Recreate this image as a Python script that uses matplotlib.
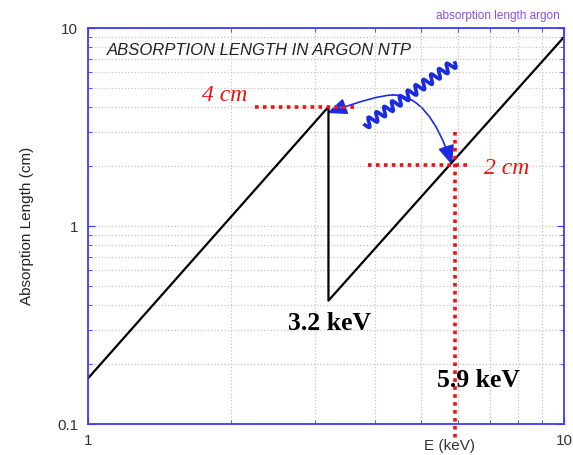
import numpy as np
import matplotlib.pyplot as plt
from matplotlib.patches import FancyArrowPatch
from matplotlib.ticker import FuncFormatter, NullFormatter, LogLocator

plt.rcParams['font.family'] = ['Liberation Sans', 'DejaVu Sans']

# absorption length curve (K edge at 3.2 keV)
energy = [1.0, 3.2, 3.2, 10.0]
abs_length = [0.17, 4.0, 0.42, 9.0]

# red dotted guide lines
guide_4cm_x = [2.24, 3.64]
guide_4cm_y = [4.0, 4.0]
guide_2cm_x = [3.87, 6.29]
guide_2cm_y = [2.03, 2.03]
guide_59_x = [5.9, 5.9]
guide_59_y = [3.0, 0.085]

W, H = 573, 455
blue = '#3b3bff'
fig = plt.figure(figsize=(W / 100, H / 100), dpi=100)
ax = fig.add_axes([88 / W, 1 - 424 / H, 476 / W, 396 / H])
ax.set_xscale('log')
ax.set_yscale('log')
ax.set_xlim(1, 10)
ax.set_ylim(0.1, 10)

ax.grid(True, which='both', color='#c4c4c4', linestyle=':', linewidth=0.9)
for s in ax.spines.values():
    s.set_color(blue)
    s.set_linewidth(1.3)
ax.tick_params(which='both', direction='in', color=blue, top=True, right=True,
               labelsize=11, labelcolor='#333333', pad=7)
ax.tick_params(which='major', length=5)
ax.tick_params(which='minor', length=3)
ax.xaxis.set_minor_locator(LogLocator(subs=np.arange(2, 10)))
ax.yaxis.set_minor_locator(LogLocator(subs=np.arange(2, 10)))
fmt = FuncFormatter(lambda v, p: f'{v:g}')
ax.xaxis.set_major_formatter(fmt)
ax.yaxis.set_major_formatter(fmt)
ax.xaxis.set_minor_formatter(NullFormatter())
ax.yaxis.set_minor_formatter(NullFormatter())

ax.plot(energy, abs_length, color='black', linewidth=1.6)

dots = dict(color='#ee1111', linewidth=2.6, linestyle=(0, (1, 1.2)), clip_on=False)
ax.plot(guide_4cm_x, guide_4cm_y, **dots)
ax.plot(guide_2cm_x, guide_2cm_y, **dots)
ax.plot(guide_59_x, guide_59_y, **dots)

ax.set_ylabel('Absorption Length (cm)', fontsize=11, color='#222222', labelpad=17)
ax.text(0.76, -0.055, 'E (keV)', transform=ax.transAxes, ha='center', va='center',
        fontsize=11, color='#333333')

ax.text(0.04, 0.944, 'ABSORPTION LENGTH IN ARGON NTP', transform=ax.transAxes,
        fontsize=12, style='italic', color='#222222', va='center')
fig.text(560 / W, 1 - 16 / H, 'absorption length argon', ha='right', va='center',
         fontsize=8.5, color='#8a50d8')

serif = ['Liberation Serif', 'DejaVu Serif']
ax.text(2.16, 4.55, '4 cm', color='#ee1111', fontsize=17, style='italic',
        family=serif, ha='right', va='center')
ax.text(6.8, 1.96, '2 cm', color='#ee1111', fontsize=17, style='italic',
        family=serif, ha='left', va='center')
ax.text(3.21, 0.32, '3.2 keV', color='black', fontsize=18.5, fontweight='bold',
        family=serif, ha='center', va='center')
ax.text(6.6, 0.165, '5.9 keV', color='black', fontsize=18.5, fontweight='bold',
        family=serif, ha='center', va='center')

# curved arrows from the photon
start = (4.37, 4.59)
head = dict(arrowstyle='-|>,head_length=1.0,head_width=0.42', mutation_scale=12,
            color='#1a2be0', linewidth=1.2, shrinkA=0, shrinkB=0)
ax.add_patch(FancyArrowPatch(start, (3.18, 3.72),
                             connectionstyle='angle3,angleA=0,angleB=20', **head))
ax.add_patch(FancyArrowPatch(start, (5.82, 2.03),
                             connectionstyle='angle3,angleA=0,angleB=108', **head))

# photon wiggle (in image pixel coordinates)
p0 = np.array([365.0, 125.0])
p1 = np.array([455.0, 63.0])
d = p1 - p0
L = np.hypot(*d)
u = d / L
n = np.array([-u[1], u[0]])
t = np.linspace(0, 1, 600)
wave = 4.5 * np.sin(2 * np.pi * 11.5 * t)
pts = p0[None, :] + t[:, None] * d[None, :] + wave[:, None] * n[None, :]
fig.lines.append(plt.Line2D(pts[:, 0] / W, 1 - pts[:, 1] / H, transform=fig.transFigure,
                            color='#1a2be0', linewidth=2.6))

fig.savefig('out.png', dpi=100)
